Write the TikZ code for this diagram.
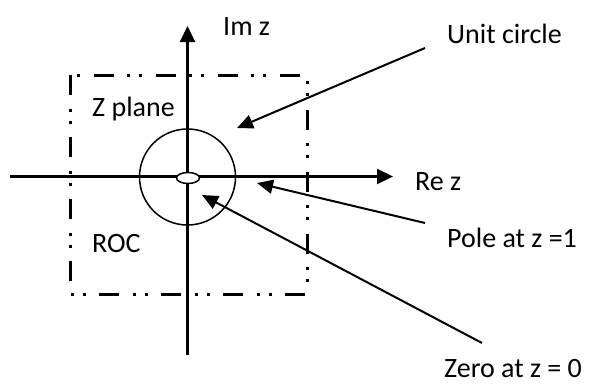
\documentclass[tikz,border=0pt]{standalone}
\usepackage{fontspec}
\setmainfont{Carlito}
\usetikzlibrary{arrows.meta,shapes.geometric}
\begin{document}
\begin{tikzpicture}[x=1pt,y=-1pt,
  lbl/.style={anchor=base west,inner sep=0pt,font=\fontsize{28}{30}\selectfont},
  axis/.style={line width=2.2pt,-{Triangle[length=16pt,width=15pt]}},
  pointer/.style={line width=2pt,-{Triangle[length=16pt,width=14pt]}},
  roc/.style={line width=3pt,dash pattern=on 20pt off 14pt on 3pt off 9pt on 3pt off 13pt}]
\useasboundingbox (0,0) rectangle (591,386);
% region of convergence box
\draw[roc] (70,75) -- (70,294) -- (307,294) -- (307,75) -- cycle;
% axes
\coordinate (xl) at (10,176.5);
\coordinate (xr) at (393,176.5);
\coordinate (yb) at (187.5,355);
\coordinate (yt) at (187.5,26);
\draw[axis] (xl) -- (xr);
\draw[axis] (yb) -- (yt);
% unit circle
\node (uc) [draw,circle,line width=1.5pt,minimum size=96pt,inner sep=0pt] at (187.5,177) {};
% zero at origin
\node (zero) [draw,ellipse,fill=white,line width=1.5pt,minimum width=23pt,minimum height=11pt,inner sep=0pt] at (188,178) {};
% labels
\node[lbl] (im) at (223,35) {Im z};
\node[lbl] (re) at (415,190) {Re z};
\node[lbl] (zp) at (92,116) {Z plane};
\node[lbl] (roclbl) at (92,252) {ROC};
\node[lbl] (unit) at (447,43) {Unit circle};
\node[lbl] (pole) at (447,247) {Pole at z =1};
\node[lbl] (zerolbl) at (444,377) {Zero at z = 0};
% pointers
\coordinate (s1) at (425,48);  \coordinate (t1) at (237,128);
\coordinate (s2) at (425,223); \coordinate (t2) at (257,183);
\coordinate (s3) at (482,343); \coordinate (t3) at (202,195);
\draw[pointer] (s1) -- (t1);
\draw[pointer] (s2) -- (t2);
\draw[pointer] (s3) -- (t3);
\end{tikzpicture}
\end{document}
